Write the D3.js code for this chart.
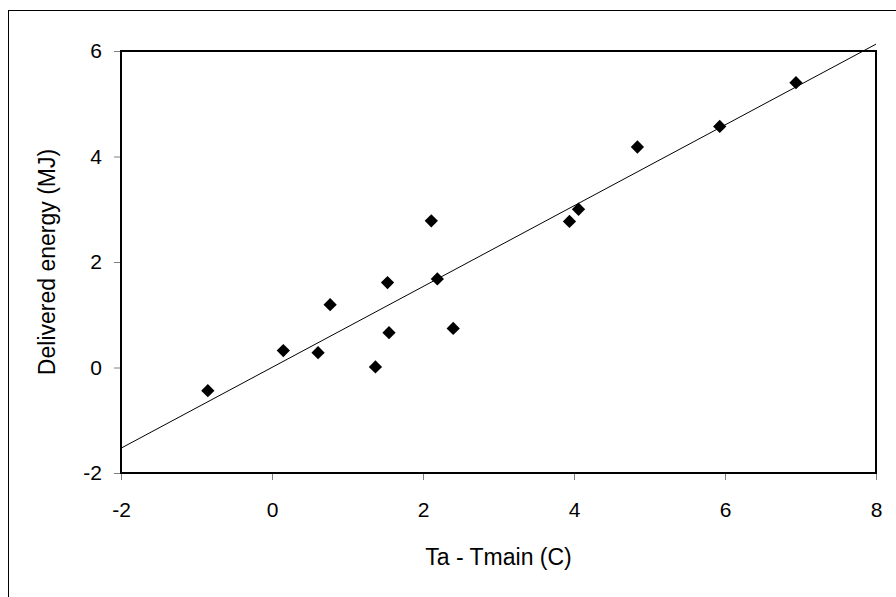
<!DOCTYPE html>
<html>
<head>
<meta charset="utf-8">
<script src="https://cdn.jsdelivr.net/npm/d3@7"></script>
<style>
  html, body { margin: 0; padding: 0; background: #fff; }
  svg { display: block; }
  text { font-family: "Liberation Sans", Arial, sans-serif; fill: #000; }
</style>
</head>
<body>
<svg id="chart" width="896" height="597"></svg>
<script>
// Measured temperature difference vs. delivered energy
const tempDiff = [-0.85, 0.15, 0.61, 0.77, 1.37, 1.53, 1.55, 2.11, 2.19, 2.40, 3.94, 4.06, 4.84, 5.93, 6.94];
const energy   = [-0.44, 0.32, 0.28, 1.19, 0.01, 1.61, 0.66, 2.78, 1.68, 0.74, 2.77, 3.00, 4.18, 4.57, 5.40];

// Linear trend line end points
const trendX = [-2, 8];
const trendY = [-1.53, 6.13];

const xTicks = [-2, 0, 2, 4, 6, 8];
const yTicks = [-2, 0, 2, 4, 6];

const xTitle = "Ta - Tmain (C)";
const yTitle = "Delivered energy (MJ)";

const svg = d3.select("#chart");
const plot = { left: 121, right: 876, top: 51, bottom: 473 };

const x = d3.scaleLinear().domain([-2, 8]).range([plot.left, plot.right]);
const y = d3.scaleLinear().domain([-2, 6]).range([plot.bottom, plot.top]);

// outer chart frame
svg.append("rect")
  .attr("x", 8.5).attr("y", 10.5)
  .attr("width", 920).attr("height", 620)
  .attr("fill", "#fff").attr("stroke", "#000").attr("stroke-width", 1);

// axes (plain hyphen for negative numbers)
const fmt = d => String(d);
const xAxis = d3.axisBottom(x).tickValues(xTicks).tickSize(7).tickPadding(22).tickFormat(fmt);
const yAxis = d3.axisLeft(y).tickValues(yTicks).tickSize(7).tickPadding(12).tickFormat(fmt);

const gx = svg.append("g").attr("transform", `translate(0,${plot.bottom})`).call(xAxis);
const gy = svg.append("g").attr("transform", `translate(${plot.left},0)`).call(yAxis);

[gx, gy].forEach(g => {
  g.select(".domain").remove();
  g.selectAll(".tick line").attr("stroke", "#808080").attr("stroke-width", 1);
  g.selectAll(".tick text").attr("font-size", 21).attr("font-family", "Liberation Sans, Arial, sans-serif").attr("fill", "#000");
});
gx.selectAll(".tick text").attr("dy", "0.71em");

// plot area border
svg.append("rect")
  .attr("x", plot.left).attr("y", plot.top)
  .attr("width", plot.right - plot.left).attr("height", plot.bottom - plot.top)
  .attr("fill", "none").attr("stroke", "#000").attr("stroke-width", 2);

// trend line
svg.append("line")
  .attr("x1", x(trendX[0])).attr("y1", y(trendY[0]))
  .attr("x2", x(trendX[1])).attr("y2", y(trendY[1]))
  .attr("stroke", "#000").attr("stroke-width", 1);

// diamond markers
const diamond = d3.symbol().type(d3.symbolSquare).size(88);
svg.append("g").selectAll("path")
  .data(tempDiff.map((t, i) => ({ t, e: energy[i] })))
  .join("path")
  .attr("d", diamond)
  .attr("transform", d => `translate(${x(d.t)},${y(d.e)}) rotate(45)`)
  .attr("fill", "#000");

// axis titles
svg.append("text")
  .attr("x", (plot.left + plot.right) / 2).attr("y", 565)
  .attr("text-anchor", "middle").attr("font-size", 23)
  .text(xTitle);

svg.append("text")
  .attr("transform", `translate(55,${(plot.top + plot.bottom) / 2}) rotate(-90)`)
  .attr("text-anchor", "middle").attr("font-size", 23)
  .text(yTitle);
</script>
</body>
</html>
